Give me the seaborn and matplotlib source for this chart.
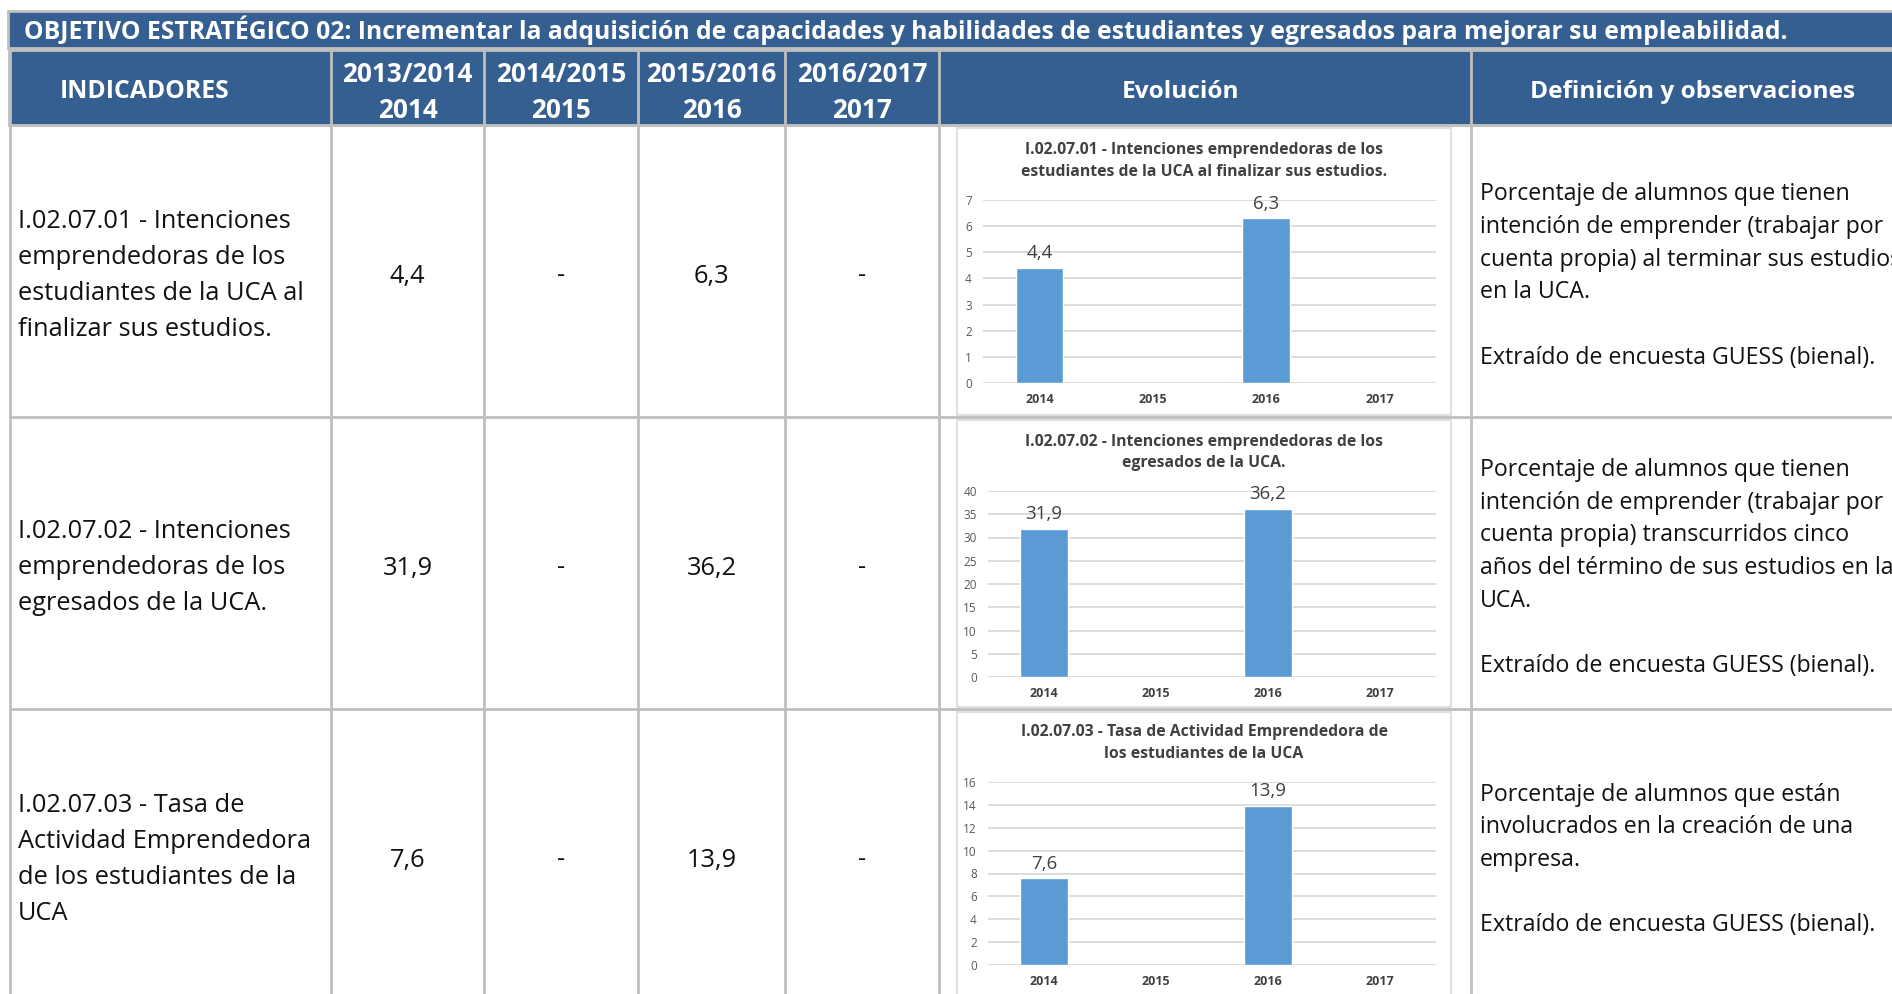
import matplotlib.pyplot as plt
import pandas as pd
import seaborn as sns
from matplotlib.patches import Rectangle

W, H = 1892, 994

title = ("OBJETIVO ESTRATÉGICO 02: Incrementar la adquisición de capacidades y "
         "habilidades de estudiantes y egresados para mejorar su empleabilidad.")
course_labels = ["2013/2014", "2014/2015", "2015/2016", "2016/2017"]
years = ["2014", "2015", "2016", "2017"]

indicator_names = [
    ["I.02.07.01 - Intenciones", "emprendedoras de los", "estudiantes de la UCA al", "finalizar sus estudios."],
    ["I.02.07.02 - Intenciones", "emprendedoras de los", "egresados de la UCA."],
    ["I.02.07.03 - Tasa de", "Actividad Emprendedora", "de los estudiantes de la", "UCA"],
]
chart_titles = [
    ["I.02.07.01 - Intenciones emprendedoras de los", "estudiantes de la UCA al finalizar sus estudios."],
    ["I.02.07.02 - Intenciones emprendedoras de los", "egresados de la UCA."],
    ["I.02.07.03 - Tasa de Actividad Emprendedora de", "los estudiantes de la UCA"],
]
definitions = [
    ["Porcentaje de alumnos que tienen", "intención de emprender (trabajar por",
     "cuenta propia) al terminar sus estudios", "en la UCA.", "",
     "Extraído de encuesta GUESS (bienal)."],
    ["Porcentaje de alumnos que tienen", "intención de emprender (trabajar por",
     "cuenta propia) transcurridos cinco", "años del término de sus estudios en la",
     "UCA.", "", "Extraído de encuesta GUESS (bienal)."],
    ["Porcentaje de alumnos que están", "involucrados en la creación de una",
     "empresa.", "", "Extraído de encuesta GUESS (bienal)."],
]
values_0701 = [4.4, None, 6.3, None]
values_0702 = [31.9, None, 36.2, None]
values_0703 = [7.6, None, 13.9, None]
all_values = [values_0701, values_0702, values_0703]
y_ticks = [list(range(0, 8, 1)), list(range(0, 41, 5)), list(range(0, 17, 2))]

# ---- layout (pixels) ----
BLUE = "#365F91"
GRID = "#BFBFBF"
BAR = "#5B9BD5"
col_x = [10, 331, 484, 638, 785, 939, 1471, 1892]
row_y = [125, 417, 709, 1001]
plot_boxes = [(983, 200, 1436, 383), (988, 491, 1436, 677), (988, 782, 1436, 965)]
title_rows = [(150, 172), (442, 463), (732, 754)]

sns.set_style("white")
plt.rcParams["font.family"] = ["Open Sans", "DejaVu Sans"]


def fmt(v):
    return "-" if v is None else f"{v:.1f}".replace(".", ",")


fig = plt.figure(figsize=(W / 100, H / 100), dpi=100)
bg = fig.add_axes([0, 0, 1, 1])
bg.set_xlim(0, W)
bg.set_ylim(H, 0)
bg.axis("off")

# title bar and header row
bg.add_patch(Rectangle((8, 11), W, 37, facecolor=BLUE, edgecolor=GRID, lw=2))
bg.text(24, 30, title, color="white", fontsize=17.8, fontweight="bold", va="center")
bg.add_patch(Rectangle((9, 50), W, 75, facecolor=BLUE, edgecolor=GRID, lw=2))
hdr = dict(color="white", fontweight="bold", ha="center", va="center")
bg.text(145, 92, "INDICADORES", fontsize=17.8, **hdr)
for i, (c, y) in enumerate(zip(course_labels, years)):
    cx = (col_x[i + 1] + col_x[i + 2]) / 2
    bg.text(cx, 74, c, fontsize=18.8, **hdr)
    bg.text(cx, 110, y, fontsize=18.8, **hdr)
bg.text(1180, 92, "Evolución", fontsize=17.6, **hdr)
bg.text(1692, 92, "Definición y observaciones", fontsize=17.6, **hdr)

# table grid
for x in col_x[:-1]:
    bg.plot([x, x], [50, H], color=GRID, lw=2, solid_capstyle="butt")
for y in row_y[:-1]:
    bg.plot([9, W], [y, y], color=GRID, lw=2, solid_capstyle="butt")

# body rows
for r in range(3):
    top, bottom = row_y[r], row_y[r + 1]
    cy = (top + bottom) / 2 + 5
    lines = indicator_names[r]
    for k, line in enumerate(lines):
        bg.text(18, cy + (k - (len(lines) - 1) / 2) * 36, line, fontsize=18.3,
                color="#111111", va="center")
    for i, v in enumerate(all_values[r]):
        cx = (col_x[i + 1] + col_x[i + 2]) / 2
        bg.text(cx, cy, fmt(v), fontsize=18.3, color="#111111", ha="center", va="center")
    lines = definitions[r]
    for k, line in enumerate(lines):
        bg.text(1480, cy + (k - (len(lines) - 1) / 2) * 32.6, line, fontsize=16.7,
                color="#111111", va="center")

    # chart frame
    bg.add_patch(Rectangle((957, top + 3), 494, bottom - top - 5, facecolor="white",
                           edgecolor="#D9D9D9", lw=1.2))
    for k, line in enumerate(chart_titles[r]):
        bg.text(1204, title_rows[r][k], line, fontsize=11.3, fontweight="bold",
                color="#404040", ha="center", va="center")

    # bar chart
    x0, y0, x1, y1 = plot_boxes[r]
    ax = fig.add_axes([x0 / W, 1 - y1 / H, (x1 - x0) / W, (y1 - y0) / H])
    df = pd.DataFrame({"year": years, "value": all_values[r]}).dropna()
    sns.barplot(data=df, x="year", y="value", order=years, color=BAR, width=0.42,
                saturation=1, ax=ax)
    ax.bar_label(ax.containers[0], labels=[fmt(v) for v in df["value"]], padding=4,
                 fontsize=13.5, color="#404040")
    ax.set_xlim(-0.5, 3.5)
    ax.set_ylim(0, y_ticks[r][-1])
    ax.set_yticks(y_ticks[r])
    ax.set_xlabel("")
    ax.set_ylabel("")
    ax.grid(axis="y", color="#D9D9D9", lw=1.3)
    ax.set_axisbelow(True)
    sns.despine(ax=ax, left=True, bottom=True)
    ax.tick_params(axis="y", length=0, pad=8, labelsize=8.5, labelcolor="#595959")
    ax.tick_params(axis="x", length=0, pad=7, labelsize=9)
    for lab in ax.get_xticklabels():
        lab.set_fontweight("bold")
        lab.set_color("#404040")
    ax.patch.set_alpha(0)

fig.savefig("out.png", dpi=100)
